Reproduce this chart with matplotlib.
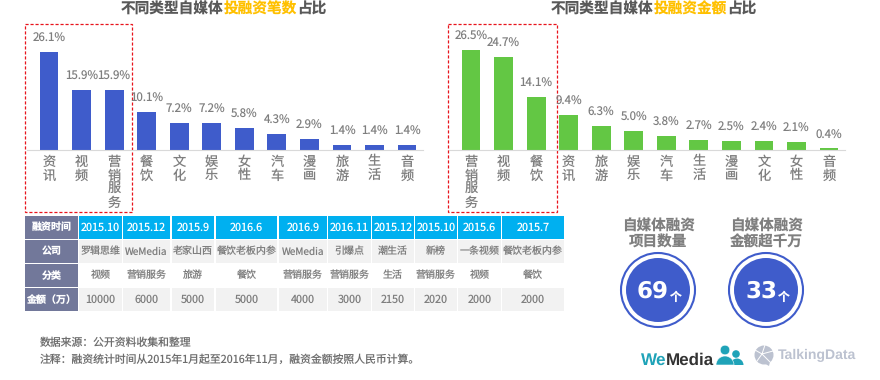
import matplotlib
matplotlib.use("Agg")
import matplotlib.pyplot as plt
from matplotlib.patches import Rectangle, Circle, Wedge, Polygon

plt.rcParams['font.family'] = ['Noto Sans CJK SC', 'DejaVu Sans']
plt.rcParams['text.hinting'] = 'no_hinting'
plt.rcParams['text.hinting_factor'] = 1

# Bar chart data
left_cats = ['资讯', '视频', '营销服务', '餐饮', '文化', '娱乐', '女性', '汽车', '漫画', '旅游', '生活', '音频']
left_vals = [26.1, 15.9, 15.9, 10.1, 7.2, 7.2, 5.8, 4.3, 2.9, 1.4, 1.4, 1.4]
right_cats = ['营销服务', '视频', '餐饮', '资讯', '旅游', '娱乐', '汽车', '生活', '漫画', '文化', '女性', '音频']
right_vals = [26.5, 24.7, 14.1, 9.4, 6.3, 5.0, 3.8, 2.7, 2.5, 2.4, 2.1, 0.4]

# Table data
row_heads = ['融资时间', '公司', '分类', '金额（万）']
dates = ['2015.10', '2015.12', '2015.9', '2016.6', '2016.9', '2016.11', '2015.12', '2015.10', '2015.6', '2015.7']
companies = ['罗辑思维', 'WeMedia', '老家山西', '餐饮老板内参', 'WeMedia', '引爆点', '潮生活', '新榜', '一条视频', '餐饮老板内参']
kinds = ['视频', '营销服务', '旅游', '餐饮', '营销服务', '营销服务', '生活', '营销服务', '视频', '餐饮']
amounts = ['10000', '6000', '5000', '5000', '4000', '3000', '2150', '2020', '2000', '2000']

W, H = 880, 380
GRAY = '#7f7f7f'
BLUE = '#3f5ccb'
GREEN = '#63c744'
ORANGE = '#ffc000'
TEAL = '#1fa3b8'
LOGO_GRAY = '#bcc2d0'

fig = plt.figure(figsize=(8.8, 3.8), dpi=100, facecolor='white')

# Overlay in pixel coordinates for everything that is not a bar
bg = fig.add_axes([0, 0, 1, 1])
bg.set_xlim(0, W)
bg.set_ylim(H, 0)
bg.axis('off')


def bar_panel(x0, x1, cats, vals, color):
    ax = fig.add_axes([x0 / W, 1 - 150 / H, (x1 - x0) / W, 126 / H])
    ax.patch.set_alpha(0)
    ax.bar(range(len(vals)), vals, width=0.58, color=color)
    ax.set_xlim(-0.676, 11.49)
    ax.set_ylim(0, 126 / 3.76)
    ax.set_yticks([])
    ax.set_xticks([])
    for s in ['top', 'left', 'right']:
        ax.spines[s].set_visible(False)
    ax.spines['bottom'].set_color('#d9d9d9')
    ax.spines['bottom'].set_linewidth(0.8)
    for i, v in enumerate(vals):
        ax.annotate(f'{v}%', (i, v), xytext=(0, 5.4), textcoords='offset points',
                    ha='center', va='bottom', fontsize=8.3, color=GRAY)
        ax.annotate('\n'.join(cats[i]), (i, 0), xytext=(0, -3.5), textcoords='offset points',
                    ha='center', va='top', fontsize=9.5, color=GRAY,
                    linespacing=1.0, annotation_clip=False)


bar_panel(27, 423, left_cats, left_vals, BLUE)
bar_panel(449, 845, right_cats, right_vals, GREEN)


def title(x, a, b, c):
    cw = 14.65
    for txt, col, off in [(a, '#595959', 0), (b, ORANGE, len(a)), (c, '#595959', len(a) + len(b))]:
        bg.text(x + off * cw, 9, txt, color=col, fontsize=10.55, fontweight='bold',
                ha='left', va='center')


title(121, '不同类型自媒体', '投融资笔数', '占比')
title(551, '不同类型自媒体', '投融资金额', '占比')

# Dashed highlight boxes
for bx0, bx1 in [(25, 132), (448, 557)]:
    bg.add_patch(Rectangle((bx0, 24), bx1 - bx0, 188, fill=False, edgecolor='#e8141c',
                           linestyle=(0, (2.5, 1.5)), linewidth=0.9))

# Table
col_edges = [(25, 78), (79, 122), (123, 170), (172, 214), (216, 277), (279, 327),
             (328, 371), (372, 414), (415, 457), (458, 501), (502, 564)]
row_edges = [(216, 239), (240, 263), (264, 287), (288, 311)]
rows = [dates, companies, kinds, amounts]
for r, (y0, y1) in enumerate(row_edges):
    x0, x1 = col_edges[0]
    bg.add_patch(Rectangle((x0, y0), x1 - x0, y1 - y0, facecolor='#72789a', edgecolor='none'))
    bg.text((x0 + x1) / 2, (y0 + y1) / 2, row_heads[r], color='white', fontsize=7.2,
            fontweight='bold', ha='center', va='center')
    for c, val in enumerate(rows[r]):
        x0, x1 = col_edges[c + 1]
        face = ['#00b0f0', '#f2f2f2', 'white', '#f2f2f2'][r]
        size = 7.8 if r in (0, 3) else 7.2
        bg.add_patch(Rectangle((x0, y0), x1 - x0, y1 - y0, facecolor=face, edgecolor='none'))
        bg.text((x0 + x1) / 2, (y0 + y1) / 2, val, color='white' if r == 0 else GRAY,
                fontsize=size, ha='center', va='center')

# Big number circles
stats = [(658, '自媒体融资\n项目数量', '69'), (766, '自媒体融资\n金额超千万', '33')]
for cx, label, num in stats:
    bg.text(cx, 234, label, color=GRAY, fontsize=10.5, fontweight='bold', ha='center',
            va='center', linespacing=1.1)
    bg.add_patch(Circle((cx, 290), 37, facecolor='white', edgecolor=BLUE, linewidth=1.5))
    bg.add_patch(Circle((cx, 290), 32, facecolor=BLUE, edgecolor='none'))
    bg.text(cx - 5, 291, num, color='white', fontsize=16.5, fontweight='bold', ha='center',
            va='center', family='DejaVu Sans')
    bg.text(cx + 18, 297, '个', color='white', fontsize=8.5, fontweight='bold', ha='center',
            va='center')

# Footnotes
bg.text(40, 343, '数据来源：公开资料收集和整理', color='#6e6e6e', fontsize=7.8, ha='left', va='center')
bg.text(40, 360, '注释：融资统计时间从2015年1月起至2016年11月，融资金额按照人民币计算。',
        color='#6e6e6e', fontsize=7.8, ha='left', va='center')

# WeMedia logo
bg.text(641, 360, 'We', color=TEAL, fontsize=12.2, fontweight='bold', ha='left',
        va='center', family='Liberation Sans')
bg.text(666, 360, 'Media', color='#333333', fontsize=12.2, fontweight='bold', ha='left',
        va='center', family='Liberation Sans')
bg.add_patch(Circle((736, 354), 3.8, facecolor=TEAL, edgecolor='none'))
bg.add_patch(Wedge((737, 365), 6.5, 180, 360, facecolor=TEAL, edgecolor='none'))
bg.add_patch(Circle((725, 350), 4.8, facecolor=TEAL, edgecolor='white', linewidth=0.4))
bg.add_patch(Wedge((725, 365), 9, 180, 360, facecolor=TEAL, edgecolor='white', linewidth=0.4))

# TalkingData logo
bg.add_patch(Circle((764, 355), 9.5, facecolor=LOGO_GRAY, edgecolor='none'))
bg.add_patch(Polygon([(762, 362), (770, 362), (769, 366)], facecolor=LOGO_GRAY, edgecolor='none'))
for ex, ey in [(755, 350), (757, 361), (765, 345), (773, 351), (770, 362)]:
    bg.plot([762, ex], [354, ey], color='white', linewidth=0.7)
bg.text(778, 355, 'TalkingData', color=LOGO_GRAY, fontsize=10.3, fontweight='bold', ha='left',
        va='center', family='Liberation Sans')

fig.savefig('out.png', dpi=100)
